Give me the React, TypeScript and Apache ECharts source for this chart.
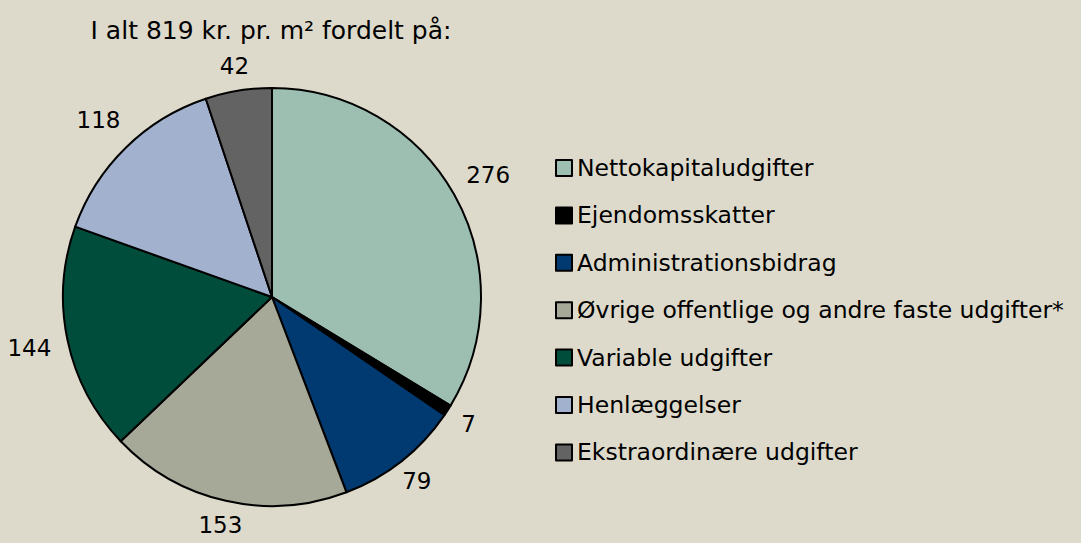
import React, { useEffect, useRef } from "react";
import * as echarts from "echarts";

const categories = [
  "Nettokapitaludgifter",
  "Ejendomsskatter",
  "Administrationsbidrag",
  "Øvrige offentlige og andre faste udgifter*",
  "Variable udgifter",
  "Henlæggelser",
  "Ekstraordinære udgifter",
];
const values = [276, 7, 79, 153, 144, 118, 42];
const colors = ["#9dbfb1", "#000000", "#003a70", "#a6a898", "#004d3b", "#a2b1cd", "#636363"];
const titleText = "I alt 819 kr. pr. m² fordelt på:";

export default function App() {
  const ref = useRef<HTMLDivElement>(null);
  useEffect(() => {
    if (!ref.current) return;
    const chart = echarts.init(ref.current, null, { renderer: "svg" });
    const font = "DejaVu Sans, Verdana, sans-serif";
    // slices whose label sits a bit further out (wide side placements)
    const farLabel = [true, false, false, false, true, true, false];
    const labelRing = (radius: number[], far: boolean) => ({
      type: "pie",
      center: [272, 297],
      radius,
      startAngle: 90,
      clockwise: true,
      silent: true,
      avoidLabelOverlap: false,
      itemStyle: { color: "transparent", borderWidth: 0 },
      label: {
        show: true,
        position: "inside",
        formatter: "{c}",
        fontFamily: font,
        fontSize: 23,
        color: "#000",
      },
      labelLine: { show: false },
      emphasis: { disabled: true },
      data: categories.map((name, i) => ({
        name,
        value: values[i],
        label: { show: farLabel[i] === far },
      })),
    });
    chart.setOption({
      animation: false,
      backgroundColor: "#dddacb",
      title: {
        text: titleText,
        left: 266,
        top: 13,
        textAlign: "center",
        textStyle: { fontFamily: font, fontSize: 25, fontWeight: "normal", color: "#000" },
      },
      legend: {
        orient: "vertical",
        left: 550,
        top: 151,
        itemWidth: 16,
        itemHeight: 16,
        itemGap: 23.4,
        icon: "rect",
        textStyle: { fontFamily: font, fontSize: 23.5, lineHeight: 24, color: "#000" },
        itemStyle: { borderColor: "#000", borderWidth: 2 },
        data: categories,
      },
      series: [
        {
          type: "pie",
          center: [272, 297],
          radius: 209,
          startAngle: 90,
          clockwise: true,
          avoidLabelOverlap: false,
          itemStyle: { borderColor: "#000", borderWidth: 2 },
          label: { show: false },
          labelLine: { show: false },
          emphasis: { disabled: true },
          data: categories.map((name, i) => ({
            name,
            value: values[i],
            itemStyle: { color: colors[i] },
          })),
        },
        labelRing([221, 241], false),
        labelRing([235, 255], true),
      ],
    });
    return () => chart.dispose();
  }, []);
  return (
    <div
      ref={ref}
      style={{ position: "absolute", left: 0, top: 0, width: 1081, height: 543 }}
    />
  );
}
